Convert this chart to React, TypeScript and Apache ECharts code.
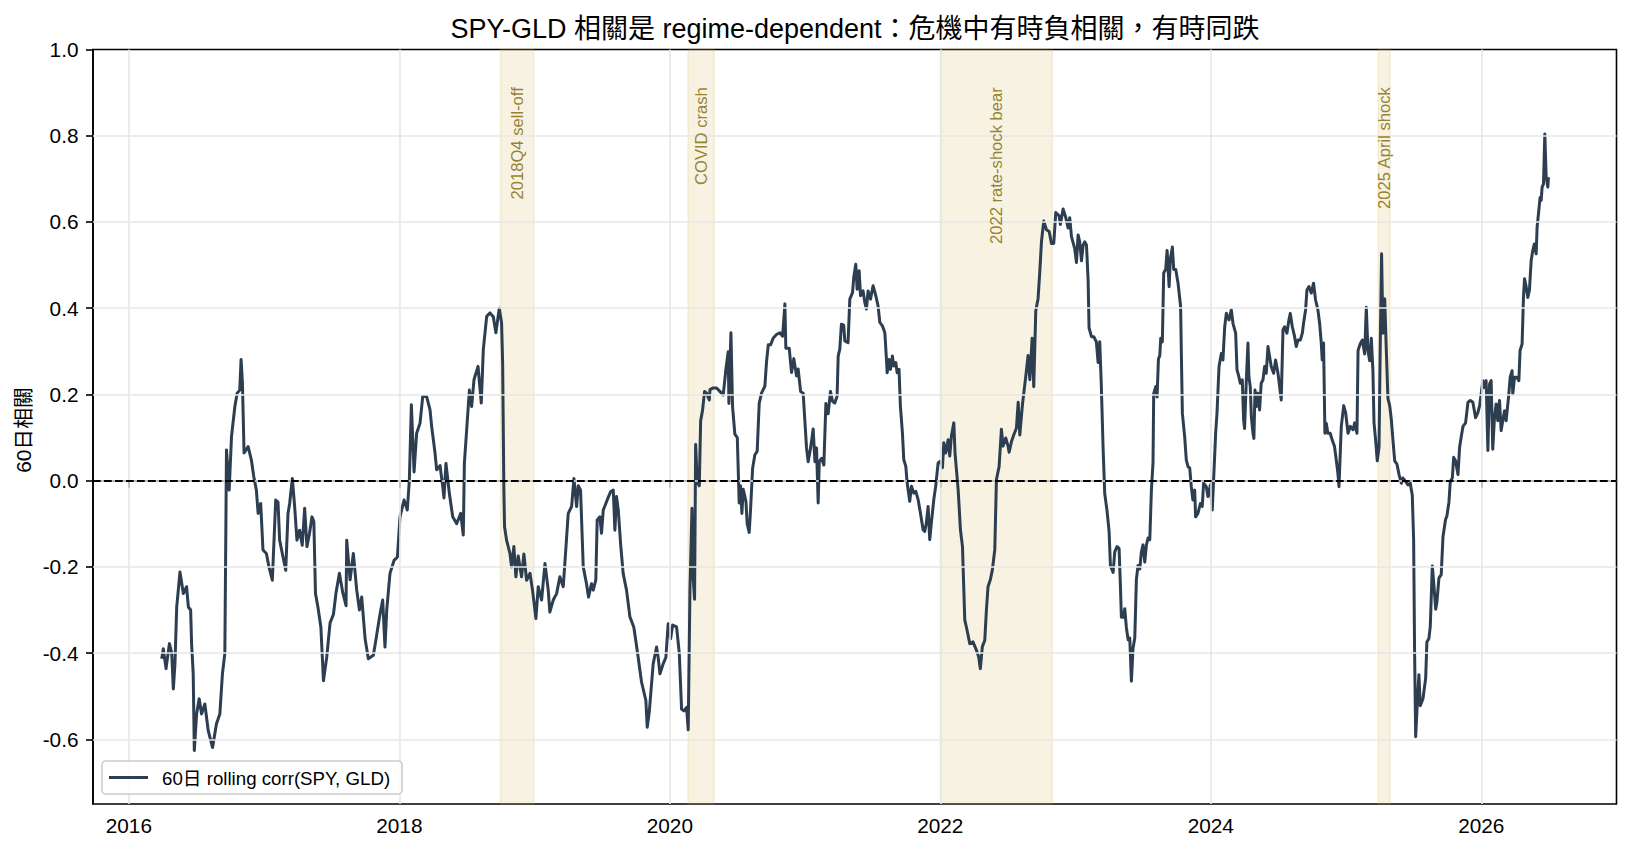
import React, { useEffect, useRef } from 'react';
import * as echarts from 'echarts';

// [decimal year, 60-day rolling correlation]
const rollingCorr: [number, number][] = [
  [2016.243,-0.413],[2016.255,-0.390],[2016.275,-0.436],[2016.300,-0.378],[2016.317,-0.400],[2016.329,-0.483],
  [2016.341,-0.425],[2016.354,-0.293],[2016.378,-0.212],[2016.403,-0.262],[2016.427,-0.246],[2016.440,-0.293],
  [2016.457,-0.300],[2016.464,-0.378],[2016.476,-0.448],[2016.484,-0.626],[2016.501,-0.541],[2016.520,-0.506],
  [2016.538,-0.541],[2016.562,-0.518],[2016.587,-0.580],[2016.619,-0.619],[2016.648,-0.564],[2016.673,-0.541],
  [2016.692,-0.448],[2016.710,-0.400],[2016.722,0.071],[2016.742,-0.022],[2016.759,0.102],[2016.784,0.172],
  [2016.801,0.203],[2016.820,0.210],[2016.830,0.281],[2016.840,0.226],[2016.852,0.064],[2016.882,0.079],
  [2016.906,0.048],[2016.924,0.009],[2016.943,-0.022],[2016.956,-0.076],[2016.975,-0.053],[2016.992,-0.161],
  [2017.017,-0.169],[2017.036,-0.200],[2017.061,-0.231],[2017.086,-0.045],[2017.103,-0.050],[2017.115,-0.138],
  [2017.140,-0.177],[2017.160,-0.208],[2017.177,-0.076],[2017.189,-0.053],[2017.209,0.005],[2017.226,-0.060],
  [2017.243,-0.138],[2017.263,-0.115],[2017.282,-0.150],[2017.300,-0.064],[2017.317,-0.153],[2017.336,-0.122],
  [2017.354,-0.084],[2017.368,-0.095],[2017.380,-0.262],[2017.398,-0.293],
  [2017.420,-0.340],[2017.439,-0.464],[2017.463,-0.410],[2017.488,-0.330],[2017.513,-0.310],[2017.532,-0.260],
  [2017.557,-0.215],[2017.582,-0.260],[2017.606,-0.290],[2017.611,-0.138],[2017.636,-0.230],[2017.660,-0.169],
  [2017.685,-0.254],[2017.705,-0.300],[2017.722,-0.270],[2017.747,-0.367],[2017.771,-0.413],[2017.808,-0.405],
  [2017.828,-0.367],[2017.857,-0.310],[2017.877,-0.277],[2017.894,-0.386],[2017.907,-0.300],[2017.931,-0.215],
  [2017.961,-0.185],[2017.986,-0.177],[2018.005,-0.084],[2018.035,-0.045],[2018.059,-0.068],[2018.074,0.000],
  [2018.089,0.176],[2018.109,0.020],[2018.128,0.110],[2018.153,0.133],[2018.173,0.195],[2018.202,0.195],
  [2018.227,0.164],[2018.239,0.126],[2018.264,0.064],[2018.276,0.025],[2018.301,0.035],[2018.321,-0.014],
  [2018.330,-0.040],[2018.345,0.040],[2018.370,-0.030],[2018.395,-0.084],[2018.424,-0.100],[2018.454,-0.076],
  [2018.473,-0.126],[2018.481,0.040],[2018.498,0.118],[2018.518,0.210],[2018.535,0.172],[2018.552,0.234],
  [2018.582,0.265],[2018.606,0.180],[2018.621,0.304],[2018.646,0.381],[2018.670,0.389],[2018.695,0.380],
  [2018.714,0.343],[2018.739,0.400],[2018.756,0.366],
  [2018.764,0.273],[2018.773,-0.022],[2018.778,-0.107],[2018.793,-0.138],[2018.818,-0.169],[2018.830,-0.200],
  [2018.847,-0.153],[2018.862,-0.223],[2018.879,-0.175],[2018.904,-0.223],[2018.921,-0.170],[2018.941,-0.231],
  [2018.966,-0.215],[2018.985,-0.254],[2019.010,-0.320],[2019.027,-0.246],[2019.052,-0.277],[2019.077,-0.192],
  [2019.101,-0.254],[2019.113,-0.305],[2019.138,-0.277],[2019.163,-0.262],[2019.187,-0.223],[2019.212,-0.246],
  [2019.224,-0.192],[2019.249,-0.076],[2019.274,-0.060],[2019.291,0.005],[2019.311,-0.060],[2019.323,-0.012],
  [2019.340,-0.022],[2019.360,-0.200],[2019.384,-0.239],[2019.399,-0.270],[2019.421,-0.239],[2019.434,-0.254],
  [2019.453,-0.230],[2019.463,-0.091],[2019.483,-0.084],[2019.495,-0.122],[2019.508,-0.068],[2019.527,-0.053],
  [2019.547,-0.037],[2019.562,-0.026],[2019.582,-0.022],[2019.594,-0.115],[2019.606,-0.037],[2019.619,-0.068],
  [2019.636,-0.146],[2019.655,-0.215],[2019.680,-0.254],[2019.705,-0.316],[2019.734,-0.340],[2019.759,-0.394],
  [2019.791,-0.467],[2019.823,-0.510],[2019.833,-0.572],[2019.848,-0.537],[2019.877,-0.425],[2019.902,-0.386],
  [2019.914,-0.410],[2019.927,-0.448],[2019.951,-0.425],[2019.971,-0.410],[2019.988,-0.332],
  [2020.006,-0.367],[2020.021,-0.335],[2020.050,-0.339],[2020.070,-0.400],[2020.087,-0.530],[2020.104,-0.534],
  [2020.124,-0.526],[2020.136,-0.578],[2020.149,-0.251],[2020.164,-0.064],[2020.173,-0.227],[2020.183,-0.275],
  [2020.191,0.084],[2020.203,-0.004],[2020.218,-0.012],[2020.228,0.139],[2020.242,0.163],[2020.257,0.207],
  [2020.272,0.203],[2020.292,0.187],[2020.297,0.211],[2020.321,0.215],[2020.346,0.215],[2020.370,0.207],
  [2020.395,0.199],[2020.415,0.259],[2020.432,0.299],[2020.437,0.179],[2020.452,0.343],[2020.464,0.171],
  [2020.481,0.108],[2020.499,0.100],[2020.513,-0.052],[2020.523,-0.012],[2020.533,-0.076],[2020.543,-0.020],
  [2020.563,-0.048],[2020.572,-0.100],[2020.587,-0.120],[2020.597,-0.068],[2020.612,0.028],[2020.629,0.060],
  [2020.646,0.068],[2020.661,0.179],[2020.678,0.203],[2020.703,0.219],[2020.715,0.275],[2020.728,0.315],
  [2020.745,0.315],[2020.765,0.331],[2020.789,0.339],[2020.814,0.343],[2020.834,0.335],[2020.851,0.410],
  [2020.858,0.307],[2020.883,0.307],[2020.900,0.251],[2020.917,0.283],[2020.937,0.243],[2020.949,0.259],
  [2020.967,0.207],[2020.986,0.203],[2021.011,0.076],[2021.023,0.044],[2021.041,0.076],[2021.060,0.120],
  [2021.073,0.044],[2021.085,0.076],[2021.097,-0.052],[2021.105,0.044],[2021.122,0.052],[2021.139,0.036],
  [2021.154,0.179],[2021.171,0.155],[2021.188,0.207],
  [2021.203,0.184],[2021.220,0.180],[2021.237,0.196],[2021.245,0.289],[2021.257,0.305],[2021.269,0.363],
  [2021.286,0.360],[2021.294,0.324],[2021.318,0.320],[2021.331,0.421],[2021.351,0.436],[2021.360,0.471],
  [2021.375,0.502],[2021.385,0.444],[2021.400,0.487],[2021.410,0.429],[2021.429,0.440],[2021.442,0.413],
  [2021.454,0.398],[2021.466,0.440],[2021.484,0.421],[2021.503,0.452],[2021.523,0.429],[2021.540,0.405],
  [2021.553,0.367],[2021.572,0.359],[2021.590,0.343],[2021.602,0.281],[2021.607,0.250],[2021.621,0.281],
  [2021.631,0.258],[2021.646,0.289],[2021.656,0.266],[2021.671,0.274],[2021.681,0.250],[2021.695,0.258],
  [2021.705,0.173],[2021.720,0.111],[2021.730,0.049],[2021.745,0.033],[2021.755,-0.005],[2021.774,-0.048],
  [2021.787,-0.013],[2021.804,-0.029],[2021.819,-0.025],[2021.836,-0.044],[2021.853,-0.075],[2021.873,-0.114],
  [2021.885,-0.118],[2021.897,-0.098],[2021.910,-0.060],[2021.922,-0.137],[2021.934,-0.098],[2021.952,-0.044],
  [2021.966,-0.013],[2021.984,0.041],[2022.001,0.045],[2022.016,0.030],[2022.026,0.088],[2022.040,0.064],
  [2022.058,0.095],[2022.070,0.057],[2022.082,0.103],[2022.100,0.134],[2022.109,0.064],[2022.132,-0.021],
  [2022.149,-0.114],[2022.164,-0.153],[2022.181,-0.323],[2022.198,-0.347],[2022.218,-0.378],[2022.242,-0.374],
  [2022.267,-0.393],[2022.284,-0.409],[2022.296,-0.436],[2022.311,-0.385],[2022.329,-0.370],[2022.341,-0.300],
  [2022.353,-0.246],[2022.370,-0.230],[2022.385,-0.207],[2022.403,-0.160],[2022.415,0.002],[2022.435,0.033],
  [2022.452,0.119],[2022.464,0.080],[2022.484,0.099],[2022.501,0.080],
  [2022.509,0.066],[2022.526,0.090],[2022.543,0.106],[2022.563,0.122],[2022.576,0.182],[2022.588,0.106],
  [2022.608,0.178],[2022.617,0.202],[2022.632,0.242],[2022.649,0.290],[2022.662,0.234],[2022.679,0.330],
  [2022.691,0.218],[2022.706,0.394],[2022.723,0.422],[2022.736,0.486],[2022.748,0.554],[2022.765,0.602],
  [2022.785,0.582],[2022.805,0.578],[2022.822,0.550],[2022.839,0.550],[2022.854,0.622],[2022.879,0.614],
  [2022.888,0.594],[2022.908,0.630],[2022.928,0.610],[2022.945,0.586],[2022.957,0.610],[2022.970,0.566],
  [2022.994,0.538],[2023.007,0.506],[2023.019,0.570],[2023.031,0.554],[2023.044,0.510],[2023.056,0.546],
  [2023.068,0.554],[2023.081,0.546],[2023.093,0.466],[2023.100,0.354],[2023.118,0.334],[2023.135,0.334],
  [2023.154,0.322],[2023.167,0.274],[2023.179,0.322],[2023.191,0.218],[2023.204,0.074],[2023.216,-0.030],
  [2023.233,-0.070],[2023.248,-0.117],[2023.258,-0.197],[2023.278,-0.213],[2023.290,-0.165],[2023.307,-0.153],
  [2023.322,-0.157],[2023.332,-0.245],[2023.339,-0.317],[2023.352,-0.317],[2023.364,-0.297],[2023.376,-0.341],
  [2023.389,-0.369],[2023.401,-0.365],[2023.413,-0.465],[2023.425,-0.389],[2023.438,-0.365],[2023.450,-0.229],
  [2023.462,-0.197],[2023.475,-0.205],[2023.487,-0.165],[2023.499,-0.149],[2023.512,-0.189],[2023.524,-0.149],
  [2023.536,-0.133],[2023.549,-0.137],[2023.561,-0.022],[2023.573,0.042],[2023.578,0.202],[2023.593,0.218],
  [2023.603,0.194],[2023.613,0.282],[2023.623,0.290],[2023.630,0.330],[2023.642,0.322],[2023.652,0.482],
  [2023.667,0.490],[2023.677,0.534],[2023.692,0.450],[2023.701,0.514],[2023.716,0.542],[2023.726,0.490],
  [2023.741,0.490],[2023.758,0.458],
  [2023.777,0.404],[2023.782,0.303],[2023.790,0.156],[2023.807,0.102],[2023.819,0.048],[2023.832,0.032],
  [2023.844,0.030],[2023.856,-0.014],[2023.868,-0.045],[2023.881,-0.022],[2023.888,-0.084],[2023.905,-0.076],
  [2023.923,-0.053],[2023.937,-0.060],[2023.947,-0.006],[2023.967,-0.014],[2023.979,-0.037],[2023.997,-0.010],
  [2024.011,-0.068],[2024.021,0.002],[2024.036,0.110],[2024.046,0.156],[2024.061,0.265],[2024.078,0.295],
  [2024.090,0.280],[2024.103,0.357],[2024.115,0.388],[2024.135,0.373],[2024.152,0.396],[2024.164,0.365],
  [2024.184,0.342],[2024.194,0.257],[2024.208,0.241],[2024.218,0.226],[2024.233,0.234],[2024.243,0.141],
  [2024.250,0.121],[2024.263,0.234],[2024.275,0.319],[2024.282,0.241],[2024.292,0.218],[2024.300,0.148],
  [2024.312,0.110],[2024.319,0.098],[2024.327,0.210],[2024.337,0.172],[2024.349,0.203],[2024.361,0.164],
  [2024.373,0.226],[2024.386,0.234],[2024.398,0.265],[2024.410,0.249],[2024.423,0.311],[2024.435,0.288],
  [2024.447,0.265],[2024.465,0.249],[2024.479,0.280],[2024.497,0.249],[2024.509,0.218],[2024.521,0.187],
  [2024.534,0.350],[2024.546,0.357],[2024.563,0.342],[2024.578,0.373],[2024.588,0.388],[2024.603,0.357],
  [2024.620,0.334],[2024.632,0.311],[2024.645,0.326],[2024.662,0.326],[2024.677,0.342],[2024.686,0.365],
  [2024.701,0.396],[2024.711,0.442],[2024.726,0.450],[2024.743,0.435],[2024.760,0.458],[2024.775,0.419],
  [2024.792,0.396],[2024.805,0.365],[2024.817,0.319],[2024.824,0.280],[2024.834,0.319],[2024.844,0.110],
  [2024.854,0.133],[2024.866,0.110],[2024.883,0.110],[2024.898,0.094],[2024.915,0.079],[2024.928,0.048],
  [2024.940,0.017],[2024.948,-0.014],
  [2024.965,0.126],[2024.983,0.174],[2024.997,0.158],[2025.015,0.110],[2025.032,0.126],[2025.052,0.118],
  [2025.064,0.134],[2025.081,0.110],[2025.089,0.302],[2025.106,0.318],[2025.121,0.326],[2025.138,0.294],
  [2025.150,0.402],[2025.162,0.302],[2025.175,0.278],[2025.187,0.330],[2025.199,0.254],[2025.207,0.134],
  [2025.219,0.094],[2025.231,0.046],[2025.244,0.078],[2025.254,0.334],[2025.263,0.526],[2025.273,0.342],
  [2025.286,0.422],[2025.298,0.302],[2025.310,0.190],[2025.323,0.174],[2025.335,0.142],[2025.347,0.094],
  [2025.360,0.046],[2025.377,0.038],[2025.392,0.014],[2025.409,-0.006],[2025.421,0.006],[2025.441,-0.002],
  [2025.458,-0.010],[2025.475,-0.006],[2025.490,-0.034],[2025.500,-0.138],[2025.507,-0.394],[2025.515,-0.594],
  [2025.525,-0.530],[2025.539,-0.450],[2025.549,-0.522],[2025.569,-0.506],[2025.589,-0.458],[2025.598,-0.374],
  [2025.613,-0.366],[2025.623,-0.338],[2025.638,-0.198],[2025.648,-0.234],[2025.663,-0.298],[2025.672,-0.282],
  [2025.687,-0.226],[2025.704,-0.218],[2025.717,-0.130],[2025.736,-0.090],[2025.746,-0.082],[2025.761,-0.050],
  [2025.771,-0.002],[2025.786,0.006],[2025.796,0.054],[2025.810,0.046],[2025.828,0.014],[2025.840,0.078],
  [2025.852,0.102],[2025.865,0.126],[2025.884,0.134],[2025.902,0.182],[2025.919,0.186],[2025.938,0.182],
  [2025.958,0.146],[2025.975,0.158],[2025.988,0.174],
  [2026.012,0.232],[2026.024,0.216],[2026.036,0.232],[2026.049,0.070],[2026.061,0.224],[2026.073,0.232],
  [2026.085,0.073],[2026.098,0.147],[2026.110,0.178],[2026.122,0.139],[2026.135,0.186],[2026.147,0.116],
  [2026.159,0.139],[2026.172,0.162],[2026.184,0.139],[2026.204,0.201],[2026.214,0.240],[2026.228,0.255],
  [2026.233,0.201],[2026.246,0.240],[2026.263,0.240],[2026.278,0.232],[2026.287,0.302],[2026.302,0.317],
  [2026.312,0.425],[2026.320,0.468],[2026.332,0.450],[2026.344,0.425],[2026.356,0.441],[2026.369,0.510],
  [2026.381,0.534],[2026.393,0.549],[2026.406,0.526],[2026.413,0.588],[2026.423,0.619],[2026.435,0.657],
  [2026.443,0.650],[2026.450,0.681],[2026.460,0.688],[2026.470,0.804],[2026.480,0.704],[2026.492,0.681],
  [2026.497,0.704],
];

const xTickYears = [2016, 2018, 2020, 2022, 2024, 2026];
const yTickValues = [-0.6, -0.4, -0.2, 0.0, 0.2, 0.4, 0.6, 0.8, 1.0];
const yGridValues = [-0.6, -0.4, -0.2, 0.0, 0.2, 0.4, 0.6, 0.8];

const crisisNames = ['2018Q4 sell-off', 'COVID crash', '2022 rate-shock bear', '2025 April shock'];
const crisisStart = [2018.748, 2020.135, 2022.0, 2025.238];
const crisisEnd = [2018.995, 2020.328, 2022.828, 2025.326];

const TITLE = 'SPY-GLD 相關是 regime-dependent：危機中有時負相關，有時同跌';
const Y_NAME = '60日相關';
const SERIES_NAME = '60日 rolling corr(SPY, GLD)';

const FONT = '"Liberation Sans", Arial, "Noto Sans CJK TC", sans-serif';

export default function App() {
  const ref = useRef<HTMLDivElement>(null);

  useEffect(() => {
    document.body.style.margin = '0';
    const chart = echarts.init(ref.current as HTMLDivElement, null, { renderer: 'svg' });

    const Y_MIN = -0.75;
    const Y_MAX = 1.0;
    const labelY = Y_MIN + 0.95 * (Y_MAX - Y_MIN);

    const option: any = {
      animation: false,
      grid: {
        left: 93,
        right: 15.5,
        top: 49.5,
        bottom: 48,
        show: true,
        borderColor: '#000',
        borderWidth: 1.6,
        backgroundColor: 'transparent',
      },
      xAxis: {
        type: 'value',
        min: 2015.735,
        max: 2027.0,
        axisLine: { show: true, lineStyle: { color: '#000', width: 1.6 } },
        axisTick: {
          show: true,
          inside: false,
          length: 7,
          customValues: xTickYears,
          lineStyle: { color: '#000', width: 1.6 },
        },
        axisLabel: {
          customValues: xTickYears,
          formatter: (v: number) => String(Math.round(v)),
          color: '#000',
          fontSize: 20.8,
          fontFamily: FONT,
          margin: 11,
        },
        splitLine: { show: false },
      },
      yAxis: {
        type: 'value',
        min: Y_MIN,
        max: Y_MAX,
        axisLine: { show: true, lineStyle: { color: '#000', width: 1.6 } },
        axisTick: {
          show: true,
          inside: false,
          length: 7,
          customValues: yTickValues,
          lineStyle: { color: '#000', width: 1.6 },
        },
        axisLabel: {
          customValues: yTickValues,
          formatter: (v: number) => v.toFixed(1),
          color: '#000',
          fontSize: 20.8,
          fontFamily: FONT,
          margin: 14.5,
        },
        splitLine: { show: false },
      },
      graphic: [
        {
          type: 'text',
          x: 855,
          y: 29,
          style: {
            text: TITLE,
            fontSize: 27,
            fontFamily: FONT,
            fill: '#000',
            align: 'center',
            verticalAlign: 'middle',
          },
        },
        {
          type: 'text',
          x: 23.5,
          y: 430,
          rotation: Math.PI / 2,
          style: {
            text: Y_NAME,
            fontSize: 20.8,
            fontFamily: FONT,
            fill: '#000',
            align: 'center',
            verticalAlign: 'middle',
          },
        },
        {
          type: 'rect',
          z: 100,
          shape: { x: 102, y: 761, width: 300, height: 33, r: 4 },
          style: { fill: 'rgba(255,255,255,0.8)', stroke: '#cccccc', lineWidth: 1.6 },
        },
        {
          type: 'line',
          z: 101,
          shape: { x1: 109, y1: 777.5, x2: 148, y2: 777.5 },
          style: { stroke: '#2c3e50', lineWidth: 3 },
        },
        {
          type: 'text',
          z: 101,
          x: 162,
          y: 778,
          style: {
            text: SERIES_NAME,
            fontSize: 18.7,
            fontFamily: FONT,
            fill: '#000',
            align: 'left',
            verticalAlign: 'middle',
          },
        },
      ],
      series: [
        {
          type: 'line',
          name: 'bands',
          data: [],
          z: 1,
          silent: true,
          markArea: {
            silent: true,
            itemStyle: {
              color: 'rgba(210,170,60,0.15)',
              borderColor: 'rgba(210,170,60,0.15)',
              borderWidth: 1.6,
            },
            label: { show: false },
            data: crisisNames.map((n, i) => [{ xAxis: crisisStart[i] }, { xAxis: crisisEnd[i] }]),
          },
        },
        {
          type: 'line',
          name: 'grid',
          data: [],
          z: 2,
          silent: true,
          markLine: {
            silent: true,
            symbol: 'none',
            label: { show: false },
            lineStyle: { color: '#e7e7e7', width: 1.6, type: 'solid' },
            data: [
              ...yGridValues.map((v) => ({ yAxis: v })),
              ...xTickYears.map((v) => ({ xAxis: v })),
            ],
          },
        },
        {
          type: 'line',
          name: 'zero',
          data: [],
          z: 3,
          silent: true,
          markLine: {
            silent: true,
            symbol: 'none',
            label: { show: false },
            lineStyle: { color: '#000', width: 2, type: [7.7, 3.3] },
            data: [{ yAxis: 0 }],
          },
        },
        {
          type: 'line',
          name: SERIES_NAME,
          data: rollingCorr,
          z: 4,
          showSymbol: false,
          symbol: 'none',
          silent: true,
          lineStyle: { color: '#2c3e50', width: 3, join: 'round' },
        },
        {
          type: 'scatter',
          name: 'crisis labels',
          z: 5,
          silent: true,
          symbolSize: 1,
          itemStyle: { color: 'rgba(0,0,0,0)' },
          data: crisisNames.map((n, i) => [(crisisStart[i] + crisisEnd[i]) / 2, labelY]),
          label: {
            show: true,
            position: 'inside',
            rotate: 90,
            align: 'right',
            verticalAlign: 'middle',
            formatter: (p: any) => crisisNames[p.dataIndex],
            color: '#7a6500',
            fontSize: 16.6,
            fontFamily: FONT,
          },
        },
      ],
    };

    chart.setOption(option);
    return () => {
      chart.dispose();
    };
  }, []);

  return <div ref={ref} style={{ width: 1632, height: 852 }} />;
}
